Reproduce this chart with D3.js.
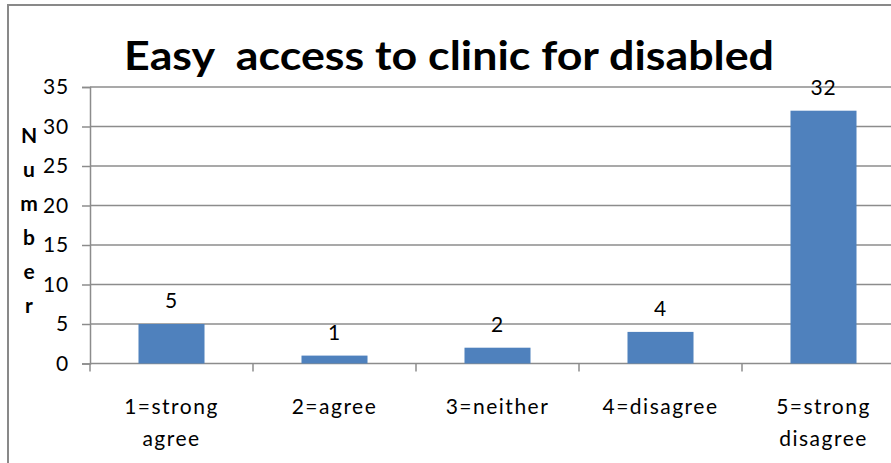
<!DOCTYPE html>
<html>
<head>
<meta charset="utf-8">
<script src="https://cdn.jsdelivr.net/npm/d3@7"></script>
<style>
  html, body { margin: 0; padding: 0; background: #fff; }
  svg { display: block; }
  text { font-family: Lato, "Noto Sans", sans-serif; fill: #000; }
</style>
</head>
<body>
<svg id="chart" width="891" height="463"></svg>
<script>
// Survey responses: easy access to clinic for disabled
const categories = [["1=strong", "agree"], ["2=agree"], ["3=neither"], ["4=disagree"], ["5=strong", "disagree"]];
const counts = [5, 1, 2, 4, 32];
const yTicks = [0, 5, 10, 15, 20, 25, 30, 35];
const titleText = "Easy  access to clinic for disabled";
const yLabel = ["N", "u", "m", "b", "e", "r"];

const svg = d3.select("#chart");
const W = 891, H = 463;

// outer chart frame
svg.append("rect")
  .attr("x", 8).attr("y", 5)
  .attr("width", W + 20).attr("height", H + 20)
  .attr("fill", "#fff").attr("stroke", "#898989").attr("stroke-width", 2);

const x0 = 90, y0 = 363.5, yTop = 87;
const step = 163;
const x = d3.scaleBand()
  .domain(d3.range(categories.length))
  .range([x0, x0 + step * categories.length])
  .paddingInner(0.595)
  .paddingOuter(0.2975);
const y = d3.scaleLinear().domain([0, 35]).range([y0, yTop]);

// horizontal gridlines
svg.append("g").selectAll("line").data(yTicks.filter(d => d > 0)).join("line")
  .attr("x1", x0).attr("x2", W + 20)
  .attr("y1", d => y(d)).attr("y2", d => y(d))
  .attr("stroke", "#8c8c8c").attr("stroke-width", 1.5);

// y axis
const yAxis = svg.append("g").attr("transform", `translate(${x0},0)`)
  .call(d3.axisLeft(y).tickValues(yTicks).tickSize(8).tickPadding(13));
yAxis.select(".domain").attr("stroke", "#8c8c8c").attr("stroke-width", 1.5);
yAxis.selectAll(".tick line").attr("stroke", "#8c8c8c").attr("stroke-width", 1.5);
yAxis.selectAll(".tick text").attr("font-size", 21).attr("letter-spacing", 0.8)
  .attr("font-family", "Lato, 'Noto Sans', sans-serif").attr("fill", "#000");

// x axis baseline with tick marks at category boundaries
svg.append("line")
  .attr("x1", x0).attr("x2", W + 20)
  .attr("y1", y0).attr("y2", y0)
  .attr("stroke", "#8c8c8c").attr("stroke-width", 1.5);
svg.append("g").selectAll("line").data(d3.range(categories.length + 1)).join("line")
  .attr("x1", i => x0 + i * x.step()).attr("x2", i => x0 + i * x.step())
  .attr("y1", y0).attr("y2", y0 + 8)
  .attr("stroke", "#8c8c8c").attr("stroke-width", 1.5);

// bars
svg.append("g").selectAll("rect").data(counts).join("rect")
  .attr("x", (d, i) => x(i))
  .attr("width", x.bandwidth())
  .attr("y", d => y(d))
  .attr("height", d => y0 - y(d))
  .attr("fill", "#4f81bd");

// value labels
svg.append("g").selectAll("text").data(counts).join("text")
  .attr("x", (d, i) => x(i) + x.bandwidth() / 2)
  .attr("y", d => y(d) - 16)
  .attr("text-anchor", "middle")
  .attr("font-size", 21)
  .attr("letter-spacing", 0.8)
  .text(d => d);

// category labels
const cat = svg.append("g").selectAll("text").data(categories).join("text")
  .attr("x", (d, i) => x(i) + x.bandwidth() / 2)
  .attr("y", 414)
  .attr("text-anchor", "middle")
  .attr("font-size", 21)
  .attr("letter-spacing", 1.5);
cat.selectAll("tspan").data(d => d).join("tspan")
  .attr("x", function () { return d3.select(this.parentNode).attr("x"); })
  .attr("dy", (d, i) => i === 0 ? 0 : 32)
  .text(d => d);

// title
svg.append("text")
  .attr("x", 449).attr("y", 70)
  .attr("text-anchor", "middle")
  .attr("font-size", 40).attr("font-weight", 700)
  .style("white-space", "pre")
  .attr("textLength", 650).attr("lengthAdjust", "spacingAndGlyphs")
  .text(titleText);

// stacked vertical axis title
svg.append("g").selectAll("text").data(yLabel).join("text")
  .attr("x", 29)
  .attr("y", (d, i) => 143 + i * 34)
  .attr("text-anchor", "middle")
  .attr("font-size", 21).attr("font-weight", 700)
  .text(d => d);
</script>
</body>
</html>
